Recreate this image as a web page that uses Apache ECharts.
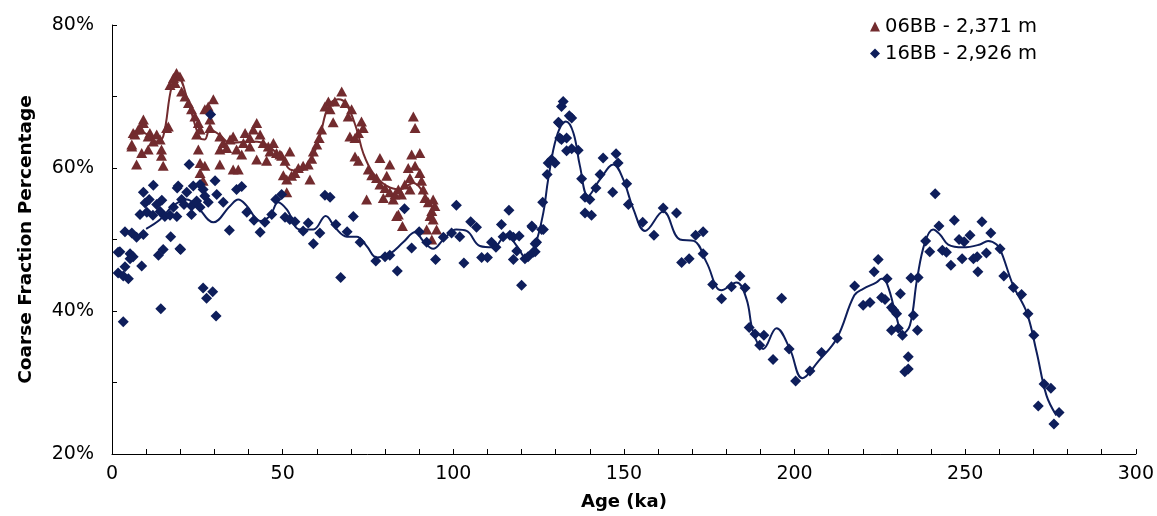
<!DOCTYPE html>
<html>
<head>
<meta charset="utf-8">
<script src="https://cdn.jsdelivr.net/npm/echarts@6/dist/echarts.min.js"></script>
<style>
html,body{margin:0;padding:0;background:#fff;}
#chart{width:1157px;height:516px;}
</style>
</head>
<body>
<div id="chart"></div>
<script>
// ---- Data (x = Age in ka, y = coarse fraction %) ----
const seriesNames = ['06BB - 2,371 m', '16BB - 2,926 m'];
const xTickLabels = ['0', '50', '100', '150', '200', '250', '300'];
const yTickLabels = ['20%', '40%', '60%', '80%'];

const bb06Points = [
[18.9,73.3],[19.9,72.8],[18.0,72.6],[17.0,71.6],[18.5,71.9],[20.4,70.7],[21.4,70.0],[22.4,69.1],[23.3,68.2],[24.3,67.2],[25.3,66.3],
[16.0,65.6],[16.5,65.8],[9.2,66.3],[9.2,66.8],[8.2,65.6],[7.7,65.4],[6.7,64.7],[6.2,64.9],[5.8,63.3],[5.8,63.0],[7.2,60.5],
[11.1,64.9],[13.1,64.7],[12.1,63.7],[14.1,64.0],[10.6,64.4],[8.7,62.1],[10.6,62.6],[14.5,61.7],[14.5,62.6],[15.0,60.3],
[29.7,69.6],[28.2,68.6],[27.2,68.2],[28.7,66.8],[28.7,65.6],[24.8,64.7],[25.8,65.4],[25.3,62.6],[25.8,60.7],[27.2,60.3],[25.8,59.3],[26.7,58.2],
[31.6,64.4],[32.6,63.5],[31.6,62.6],[33.6,62.8],[34.6,64.0],[35.5,64.4],[31.6,60.5],[35.5,59.8],[37.0,59.8],[36.5,62.6],[38.0,61.9],
[39.0,64.9],[40.4,64.2],[42.4,66.3],[41.4,65.4],[43.4,64.7],[38.5,63.5],[40.4,63.0],[44.3,63.5],[45.8,63.0],[47.3,63.5],[46.3,62.3],
[48.2,62.1],[49.7,61.7],[50.7,61.0],[42.4,61.2],[45.3,61.0],
[67.3,70.7],[65.3,69.3],[63.4,69.3],[62.4,68.6],[63.9,68.2],[68.3,69.1],[70.2,68.2],[69.2,67.2],[64.8,66.4],[73.1,66.5],[73.6,65.6],
[69.7,64.4],[71.2,64.2],[72.2,64.9],[61.4,65.4],[60.7,64.2],[60.0,63.3],[59.0,62.3],[58.5,61.3],[57.5,60.5],[56.0,60.3],[54.6,60.0],
[53.6,59.3],[52.6,58.9],[51.2,58.4],[50.2,59.0],[58.0,58.4],[52.1,62.3],[49.2,61.9],[51.2,56.6],[71.2,61.6],[72.2,61.0],[75.1,59.8],
[76.1,59.0],[77.5,58.6],[78.5,61.4],[81.4,60.5],[80.5,58.9],[78.5,57.7],[80.0,57.2],[81.4,56.6],[82.9,56.3],[83.9,57.0],[84.8,56.3],
[74.6,55.6],[79.5,55.8],[82.4,55.6],[88.3,67.2],[88.8,65.6],[87.8,61.9],[90.2,62.1],[88.8,60.3],[86.8,60.0],[90.2,59.3],[87.3,58.6],
[85.8,57.7],[87.3,57.0],[90.7,58.2],[91.2,57.0],[91.7,55.8],[92.7,55.2],[94.1,55.6],[94.6,54.7],[93.7,54.0],[93.2,53.3],[94.1,52.8],
[83.9,53.5],[83.4,53.3],[85.1,51.9],[95.1,51.4],[92.2,51.4],[93.7,50.0]
];

const bb06Smooth = [
[5.3,64.4],[9.2,64.9],[13.1,63.7],[15.0,64.4],[17.5,71.4],[19.4,72.6],[22.4,69.1],[25.8,64.2],[27.2,64.0],[28.7,65.4],[31.6,64.6],
[34.6,63.5],[40.4,63.7],[44.3,63.5],[47.3,62.5],[50.2,61.2],[52.1,59.8],[55.1,59.6],[58.5,61.4],[60.9,64.4],[63.4,68.6],[66.3,69.6],
[68.7,68.9],[71.7,65.4],[73.6,62.1],[76.5,59.3],[80.5,57.5],[84.4,57.0],[88.3,57.9],[91.2,56.6],[94.1,54.2]
];

const bb16Points = [
[1.8,45.3],[3.3,44.9],[4.8,44.5],[2.3,48.3],[1.8,48.2],[3.8,46.2],[5.3,48.0],[6.2,47.6],[5.3,47.3],[8.7,46.3],[3.8,51.1],[5.8,50.9],
[7.2,50.3],[9.2,50.7],[3.3,38.5],[14.3,40.3],[26.7,43.2],[29.5,42.7],[27.7,41.8],[30.5,39.3],[13.6,47.8],[15.0,48.6],[17.2,50.4],
[20.1,48.6],[8.2,53.5],[10.2,53.8],[12.0,53.4],[9.2,56.6],[12.1,57.6],[9.7,55.1],[10.9,55.6],[13.1,54.9],[14.6,55.5],[14.1,53.9],
[15.5,53.2],[17.0,53.4],[18.0,54.5],[19.0,53.2],[19.4,57.5],[21.9,56.6],[20.4,55.6],[21.1,54.9],[23.3,54.7],[23.8,57.5],[25.8,57.7],
[26.7,57.0],[24.8,55.4],[25.8,54.5],[27.2,56.1],[28.2,55.2],[23.3,53.5],[30.2,58.2],[30.7,56.3],[32.6,55.2],[34.4,51.3],[36.5,57.0],
[38.0,57.4],[39.5,53.8],[41.6,52.7],[44.8,52.4],[43.4,51.0],[46.8,53.5],[48.0,55.6],[28.9,67.5],[22.6,60.5],[19.1,57.2],[19.9,48.7],
[49.7,56.3],[62.4,56.2],[63.9,55.9],[50.7,53.1],[52.1,52.8],[53.6,52.5],[57.5,52.3],[56.0,51.2],[59.0,49.4],[60.9,50.9],[65.6,52.1],
[67.0,44.7],[70.7,53.2],[68.9,51.1],[72.7,49.6],[77.3,47.0],[80.0,47.6],[81.4,47.8],[83.6,45.6],[85.7,54.3],[87.8,48.8],[90.0,51.1],
[92.2,49.6],[94.8,47.2],[97.1,50.3],[100.9,54.8],[99.5,50.9],[101.9,50.4],[103.1,46.7],[105.1,52.5],[106.8,51.7],[108.3,47.5],
[110.0,47.5],[111.2,49.6],[112.5,48.9],[114.1,52.1],[114.6,50.4],[116.3,54.1],[116.6,50.6],[117.6,50.3],[119.3,50.5],[117.6,47.2],
[118.6,48.4],[120.0,43.6],[121.0,47.3],[121.9,47.6],[123.2,51.7],[124.0,48.3],[124.4,49.6],[126.4,51.4],[126.2,55.2],
[123.0,51.9],[125.9,51.4],[124.0,49.4],[123.4,48.2],[127.5,59.1],[127.8,60.7],[128.8,61.2],[129.8,60.7],[131.0,66.3],[131.7,68.6],
[132.2,69.3],[134.0,67.3],[134.7,67.0],[130.8,66.4],[131.7,64.0],[133.2,64.2],[131.2,64.2],[133.2,62.4],[134.7,62.7],[136.6,62.5],
[137.6,58.5],[138.6,55.9],[140.0,55.6],[138.6,53.7],[140.5,53.4],[141.8,57.2],[143.0,59.1],[143.9,61.4],[147.7,62.0],[148.3,60.7],
[146.7,56.6],[150.8,57.8],[151.3,54.9],[155.5,52.4],[158.8,50.6],[161.5,54.4],[165.4,53.7],[166.9,46.8],[169.1,47.3],[171.0,50.6],
[173.2,51.1],[173.2,48.0],[176.0,43.7],[178.6,41.7],[181.5,43.4],[184.0,44.9],[185.5,43.2],[186.7,37.7],[188.4,36.8],[189.8,35.2],
[191.0,36.6],[193.7,33.2],[196.2,41.8],[198.4,34.7],[200.3,30.2],
[204.5,31.6],[207.9,34.2],[212.5,36.2],[217.6,43.5],[220.1,40.8],[222.1,41.2],[223.3,45.5],[224.5,47.2],[227.1,44.5],[225.5,41.9],
[226.5,41.6],[231.0,42.4],[228.4,40.5],[229.1,40.1],[229.9,39.6],[228.4,37.3],[230.4,37.6],[231.6,36.6],[233.3,33.6],[232.3,31.5],
[233.3,31.9],[234.8,39.4],[236.0,37.3],[234.1,44.6],[236.2,44.7],[238.4,49.8],[239.6,48.3],[241.2,56.4],[242.3,51.9],[243.3,48.5],
[244.5,48.2],[245.8,46.4],[246.8,52.7],[248.2,50.0],[249.7,49.7],[251.4,50.6],[249.1,47.3],[252.4,47.3],[253.5,47.6],[253.7,45.5],
[254.9,52.5],[256.2,48.1],[257.5,50.9],[260.2,48.7],[261.3,44.9],[264.1,43.3],[266.5,42.3],[268.4,39.6],[270.1,36.6],[273.1,29.8],
[275.1,29.2],[271.4,26.7],[277.5,25.8],[276.0,24.2]
];

const bb16Smooth = [
[10,51.5],[14.1,52.8],[17.9,54.7],[21.9,55.6],[24.8,54.7],[29.7,52.4],[34.6,54.7],[37.0,55.6],[39.5,54.7],[43.4,52.6],[46.3,53.3],
[48.7,55.2],[51.2,54.2],[55.1,51.4],[59.0,51.4],[62.6,53.3],[65.5,51.6],[68.8,50.4],[71.7,50.4],[74.6,49.1],[77.5,47.5],[81.4,48.0],
[85.3,49.6],[88.8,51.0],[91.2,49.8],[94.1,48.7],[97.1,50.0],[100.9,51.4],[103.9,51.2],[107.8,49.1],[111.7,48.9],[115.6,50.7],
[118.6,49.1],[121.5,47.3],[123.9,49.1],[126.4,53.8],[127.8,58.4],[130.3,64.4],[133.0,66.5],[135.2,64.9],[137.1,60.3],[139.5,56.1],
[143.0,58.4],[146.9,60.5],[149.8,58.4],[152.8,54.2],[156.2,51.2],[161.5,53.9],[166.4,50.0],[170.5,49.8],[174.2,46.8],[178.6,42.9],
[183.0,44.0],[185.9,41.7],[187.9,37.0],[190.8,34.7],[194.7,37.6],[198.6,34.7],[202.3,30.6],[207.0,33.0],[212.4,36.2],[217.5,42.2],
[220.1,43.1],[224.0,44.0],[225.5,44.5],[227.1,43.8],[230.0,38.9],[231.6,36.8],[233.8,38.0],[235.9,44.5],[238.2,49.6],[240.6,51.4],
[242.6,50.7],[245.0,49.3],[249.4,48.9],[254.3,49.3],[256.7,49.8],[259.2,49.3],[260.6,48.2],[264.1,43.5],[268.0,39.8],[270.9,34.3],
[273.8,28.2],[276.7,25.4]
];

const RED = '#722B2E';
const NAVY = '#0E1E5B';
const FONT = 'DejaVu Sans';

const chart = echarts.init(document.getElementById('chart'), null, {renderer: 'canvas'});
chart.setOption({
  animation: false,
  backgroundColor: '#fff',
  textStyle: {fontFamily: FONT, color: '#000'},
  grid: {left: 112, right: 21, top: 25, bottom: 60, containLabel: false},
  legend: {
    orient: 'vertical',
    left: 865,
    top: 11,
    itemWidth: 10,
    itemHeight: 10,
    itemGap: 6,
    data: [
      {name: seriesNames[0], icon: 'triangle'},
      {name: seriesNames[1], icon: 'diamond'}
    ],
    textStyle: {fontFamily: FONT, fontSize: 19.5, color: '#000', lineHeight: 21}
  },
  xAxis: {
    type: 'value',
    min: 0, max: 300, interval: 10,
    name: 'Age (ka)',
    nameLocation: 'middle',
    nameGap: 39,
    nameTextStyle: {fontFamily: FONT, fontSize: 18, fontWeight: 'bold', color: '#000'},
    axisLine: {show: true, lineStyle: {color: '#000', width: 1}},
    axisTick: {show: true, inside: true, length: 5, lineStyle: {color: '#000'}},
    axisLabel: {
      fontFamily: FONT, fontSize: 19, color: '#000', margin: 11,
      formatter: v => (v % 50 === 0 ? xTickLabels[v / 50] : '')
    },
    splitLine: {show: false}
  },
  yAxis: {
    type: 'value',
    min: 20, max: 80, interval: 10,
    name: 'Coarse Fraction Percentage',
    nameLocation: 'middle',
    nameGap: 76,
    nameRotate: 90,
    nameTextStyle: {fontFamily: FONT, fontSize: 18.5, fontWeight: 'bold', color: '#000'},
    axisLine: {show: true, lineStyle: {color: '#000', width: 1}},
    axisTick: {show: true, inside: true, length: 5, lineStyle: {color: '#000'}},
    axisLabel: {
      fontFamily: FONT, fontSize: 19, color: '#000', margin: 18,
      formatter: v => (v % 20 === 0 ? yTickLabels[(v - 20) / 20] : '')
    },
    splitLine: {show: false}
  },
  series: [
    {
      name: seriesNames[0], type: 'scatter', symbol: 'triangle', symbolSize: [11, 10],
      itemStyle: {color: RED, opacity: 1}, data: bb06Points, z: 2
    },
    {
      name: '06BB smooth', type: 'line', smooth: 0.4, showSymbol: false, symbol: 'none',
      lineStyle: {color: RED, width: 2}, data: bb06Smooth, z: 3
    },
    {
      name: seriesNames[1], type: 'scatter', symbol: 'diamond', symbolSize: 11,
      itemStyle: {color: NAVY, opacity: 1}, data: bb16Points, z: 4
    },
    {
      name: '16BB smooth', type: 'line', smooth: 0.4, showSymbol: false, symbol: 'none',
      lineStyle: {color: NAVY, width: 2}, data: bb16Smooth, z: 5
    }
  ]
});
</script>
</body>
</html>
